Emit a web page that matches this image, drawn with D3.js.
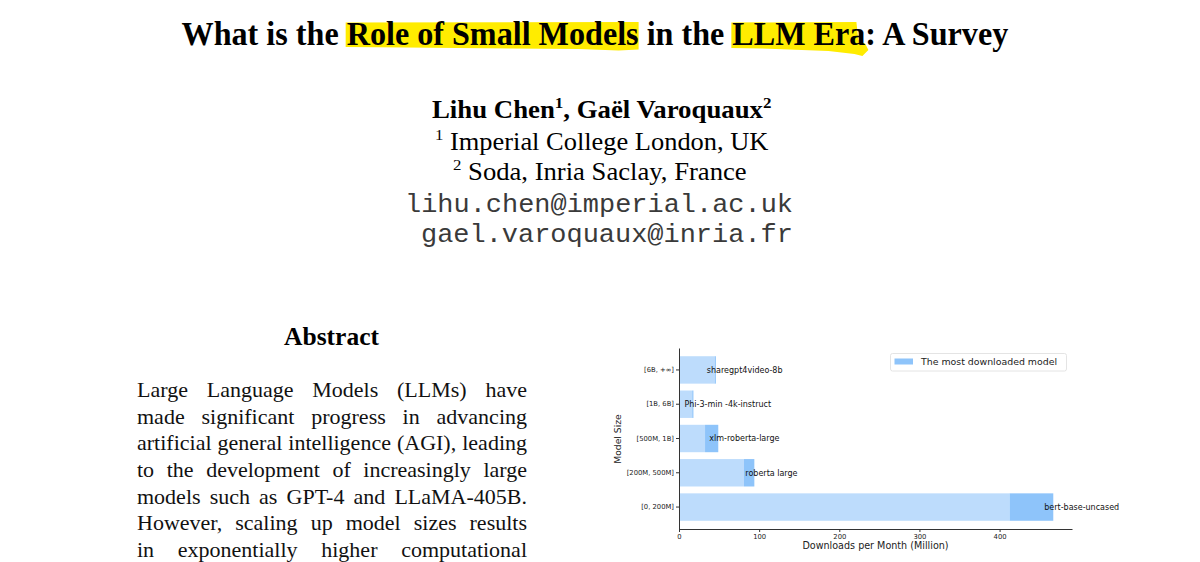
<!DOCTYPE html>
<html>
<head>
<meta charset="utf-8">
<script src="https://cdn.jsdelivr.net/npm/d3@7"></script>
<style>
  body { margin: 0; background: #fff; }
  svg { display: block; }
</style>
</head>
<body>
<script>
// chart data, bottom row first (as matplotlib draws barh)
const categories = ["[0, 200M]", "[200M, 500M]", "[500M, 1B]", "[1B, 6B]", "[6B, +\u221e]"];
const topModels = ["bert-base-uncased", "roberta large", "xlm-roberta-large", "Phi-3-min -4k-instruct", "sharegpt4video-8b"];
const otherDownloads = [412.5, 81, 32.5, 16.5, 44.5];   // light part of each bar
const topDownloads = [54.5, 13, 16.5, 1.5, 1.5];        // the most downloaded model
const xTicks = [0, 100, 200, 300, 400];

// page text
const titleText = "What is the Role of Small Models in the LLM Era: A Survey";
const highlights = ["Role of Small Models", "LLM Era"];
const abstractLines = [
  "Large Language Models (LLMs) have",
  "made significant progress in advancing",
  "artificial general intelligence (AGI), leading",
  "to the development of increasingly large",
  "models such as GPT-4 and LLaMA-405B.",
  "However, scaling up model sizes results",
  "in exponentially higher computational"
];

const width = 1200, height = 562;
const serif = "'Liberation Serif', 'Times New Roman', serif";
const mono = "'Liberation Mono', 'Courier New', monospace";
const sans = "'DejaVu Sans', sans-serif";

const svg = d3.select("body").append("svg")
    .attr("width", width)
    .attr("height", height)
    .attr("viewBox", [0, 0, width, height]);

// squeeze/stretch a text line so its box runs from x0 to x1
function fit(sel, x0, x1) {
    const bb = sel.node().getBBox();
    const sx = (x1 - x0) / bb.width;
    const tx = x0 - bb.x * sx;
    sel.attr("transform", `translate(${tx},0) scale(${sx},1)`);
    return {tx, sx};
}

// ---- title with marker highlights
const hl = svg.append("g");
const title = svg.append("text")
    .attr("font-family", serif)
    .attr("font-weight", "bold")
    .attr("font-size", 34)
    .attr("y", 45)
    .attr("fill", "#000")
    .text(titleText);
const tf = fit(title, 181.5, 1008.5);

highlights.forEach((h, i) => {
    const start = titleText.indexOf(h);
    const n = title.node();
    const a = tf.tx + tf.sx * n.getStartPositionOfChar(start).x - 1;
    const b = tf.tx + tf.sx * n.getEndPositionOfChar(start + h.length - 1).x + (i ? 3 : 0);
    const pts = i === 0
        ? [[a, 22.5], [b, 22], [b, 49.5], [b - 20, 50.5], [b - 60, 49], [a + 60, 47.5], [a, 47]]
        : [[a, 22.5], [b - 12, 22], [b - 10, 40], [b - 3, 44], [b, 50], [b - 6, 56], [b - 14, 54], [b - 40, 51], [a + 30, 48.5], [a, 48]];
    hl.append("path")
        .attr("d", d3.line().curve(d3.curveLinearClosed)(pts))
        .attr("fill", "#ffec00");
});

// ---- authors block
const authors = svg.append("text")
    .attr("font-family", serif)
    .attr("font-weight", "bold")
    .attr("font-size", 24.5)
    .attr("y", 118);
authors.append("tspan").text("Lihu Chen");
authors.append("tspan").attr("font-size", 15.5).attr("dy", -9.5).text("1");
authors.append("tspan").attr("dy", 9.5).text(", Ga\u00ebl Varoquaux");
authors.append("tspan").attr("font-size", 15.5).attr("dy", -9.5).text("2");
fit(authors, 432, 772);

const affil = [
    {sup: "1", text: " Imperial College London, UK", y: 150, x0: 435, x1: 769},
    {sup: "2", text: " Soda, Inria Saclay, France", y: 180, x0: 453, x1: 747}
];
affil.forEach(d => {
    const t = svg.append("text")
        .attr("font-family", serif)
        .attr("font-size", 24.5)
        .attr("y", d.y);
    t.append("tspan").attr("font-size", 15.5).attr("dy", -9.5).text(d.sup);
    t.append("tspan").attr("dy", 9.5).text(d.text);
    fit(t, d.x0, d.x1);
});

[{text: "lihu.chen@imperial.ac.uk", y: 212, x0: 405, x1: 793},
 {text: "gael.varoquaux@inria.fr", y: 242, x0: 421, x1: 793}].forEach(d => {
    const t = svg.append("text")
        .attr("font-family", mono)
        .attr("font-size", 26.5)
        .attr("fill", "#3a3a3a")
        .attr("y", d.y)
        .text(d.text);
    fit(t, d.x0, d.x1);
});

// ---- abstract column
svg.append("text")
    .attr("font-family", serif)
    .attr("font-weight", "bold")
    .attr("font-size", 25.5)
    .attr("text-anchor", "middle")
    .attr("x", 331.5)
    .attr("y", 345)
    .text("Abstract");

const colLeft = 137, colRight = 527;
abstractLines.forEach((line, i) => {
    const t = svg.append("text")
        .attr("font-family", serif)
        .attr("font-size", 22)
        .attr("fill", "#111")
        .attr("y", 397.3 + i * 26.55);
    const words = line.split(" ");
    const spans = words.map(w => t.append("tspan").text(w));
    const widths = spans.map(s => s.node().getComputedTextLength());
    const gap = (colRight - colLeft - d3.sum(widths)) / (words.length - 1);
    let x = colLeft;
    spans.forEach((s, k) => { s.attr("x", x); x += widths[k] + gap; });
});

// ---- the bar chart
const rows = categories.map((c, i) => ({
    category: c, model: topModels[i], other: otherDownloads[i], top: topDownloads[i]
}));
const series = d3.stack().keys(["other", "top"])(rows);
const colors = {other: "#bddcfc", top: "#8ec4fa"};

const x = d3.scaleLinear()
    .domain([0, d3.max(rows, d => d.other + d.top) * 1.05])
    .range([679, 1072]);

const y = d3.scaleBand()
    .domain(categories.slice().reverse())
    .range([348, 529])
    .paddingInner(0.2)
    .paddingOuter(0.24);

const chart = svg.append("g");

chart.append("g")
    .selectAll("g")
    .data(series)
    .join("g")
    .attr("fill", s => colors[s.key])
    .selectAll("rect")
    .data(s => s)
    .join("rect")
    .attr("x", d => x(d[0]))
    .attr("width", d => x(d[1]) - x(d[0]))
    .attr("y", d => y(d.data.category))
    .attr("height", y.bandwidth());

chart.append("g")
    .selectAll("text")
    .data(rows)
    .join("text")
    .attr("x", d => x(d.other + d.top) - 9)
    .attr("y", d => y(d.category) + y.bandwidth() / 2)
    .attr("dy", "0.35em")
    .attr("font-family", sans)
    .attr("font-size", 8)
    .attr("fill", "#111")
    .text(d => d.model);

function styleAxis(g) {
    g.select(".domain").attr("stroke", "#333").attr("stroke-width", 1);
    g.selectAll(".tick line").attr("stroke", "#333");
    g.selectAll(".tick text").attr("fill", "#222");
    g.attr("font-family", sans).attr("font-size", 6.8);
}

chart.append("g")
    .attr("transform", `translate(0,529)`)
    .call(d3.axisBottom(x).tickValues(xTicks).tickSize(3).tickSizeOuter(0).tickPadding(2))
    .call(styleAxis);

chart.append("g")
    .attr("transform", `translate(679,0)`)
    .call(d3.axisLeft(y).tickSize(3).tickSizeOuter(0).tickPadding(2))
    .call(styleAxis);

chart.append("text")
    .attr("x", (x.range()[0] + x.range()[1]) / 2)
    .attr("y", 548.5)
    .attr("text-anchor", "middle")
    .attr("font-family", sans)
    .attr("font-size", 9.6)
    .attr("fill", "#222")
    .text("Downloads per Month (Million)");

chart.append("text")
    .attr("transform", "translate(621,439) rotate(-90)")
    .attr("text-anchor", "middle")
    .attr("font-family", sans)
    .attr("font-size", 9.2)
    .attr("fill", "#222")
    .text("Model Size");

// legend
const legend = chart.append("g");
legend.append("rect")
    .attr("x", 890.5).attr("y", 353.5)
    .attr("width", 176).attr("height", 17.5)
    .attr("rx", 2)
    .attr("fill", "#fff")
    .attr("stroke", "#ddd")
    .attr("stroke-width", 0.8);
legend.append("rect")
    .attr("x", 894.5).attr("y", 358.5)
    .attr("width", 18.5).attr("height", 6)
    .attr("fill", colors.top);
legend.append("text")
    .attr("x", 921)
    .attr("y", 362)
    .attr("dy", "0.35em")
    .attr("font-family", sans)
    .attr("font-size", 9.4)
    .attr("fill", "#222")
    .text("The most downloaded model");
</script>
</body>
</html>
